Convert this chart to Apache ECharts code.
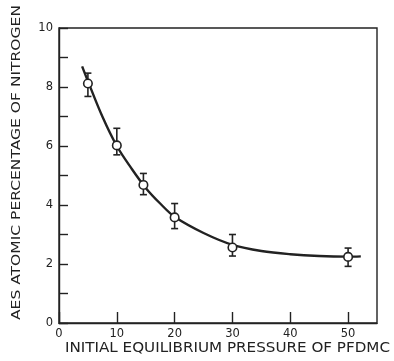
<!DOCTYPE html>
<html>
<head>
<meta charset="utf-8">
<script src="https://cdn.jsdelivr.net/npm/echarts@6/dist/echarts.min.js"></script>
<style>html,body{margin:0;padding:0;background:#fff;}#c{width:394px;height:361px;}</style>
</head>
<body>
<div id="c"></div>
<script>
// Measured points
var pressure = [5, 10, 14.6, 20, 30, 50];
var nitrogen = [8.12, 6.02, 4.68, 3.58, 2.56, 2.24];
var errLow  = [7.68, 5.70, 4.35, 3.20, 2.27, 1.92];
var errHigh = [8.47, 6.60, 5.07, 4.05, 3.00, 2.54];
// Fitted curve
var curveX = [4, 5, 7.5, 10, 12.5, 15, 17.5, 20, 25, 30, 35, 40, 45, 50, 52.2];
var curveY = [8.7, 8.2, 7.0, 6.0, 5.25, 4.58, 4.05, 3.6, 3.05, 2.65, 2.44, 2.33, 2.27, 2.25, 2.26];
var xTicks = ['0', '10', '20', '30', '40', '50'];
var yTicks = ['0', '2', '4', '6', '8', '10'];
var xTitle = 'INITIAL EQUILIBRIUM PRESSURE OF PFDMC';
var yTitle = 'AES ATOMIC PERCENTAGE OF NITROGEN';

var ink = '#222222';
function textWidth(t, font) {
  var c = document.createElement('canvas').getContext('2d');
  c.font = font; return c.measureText(t).width;
}
var xFont = '13.5px "DejaVu Sans"';
var yFont = '11.5px "DejaVu Sans"';
var xScale = 325 / textWidth(xTitle, xFont);
var yScale = 315 / textWidth(yTitle, yFont);

var chart = echarts.init(document.getElementById('c'), null, {renderer: 'canvas'});
chart.setOption({
  backgroundColor: '#ffffff',
  animation: false,
  grid: {left: 59, right: 17, top: 28, bottom: 38, show: true, borderColor: ink, borderWidth: 1.4, backgroundColor: 'transparent'},
  xAxis: {
    type: 'value', min: 0, max: 55, interval: 10,
    axisLine: {lineStyle: {color: ink, width: 1.4}},
    axisTick: {inside: true, length: 11, lineStyle: {color: ink, width: 1.4}},
    axisLabel: {showMaxLabel: false, fontFamily: 'DejaVu Sans', fontSize: 11.5, color: ink, margin: 5,
      formatter: function (v) { var i = xTicks.indexOf(String(v)); return i >= 0 ? xTicks[i] : ''; }},
    splitLine: {show: false}
  },
  yAxis: {
    type: 'value', min: 0, max: 10, interval: 1,
    axisLine: {lineStyle: {color: ink, width: 1.4}},
    axisTick: {inside: true, length: 9, lineStyle: {color: ink, width: 1.4}},
    axisLabel: {fontFamily: 'DejaVu Sans', fontSize: 11.5, color: ink, margin: 6,
      formatter: function (v) { var i = yTicks.indexOf(String(v)); return i >= 0 ? yTicks[i] : ''; }},
    splitLine: {show: false}
  },
  graphic: [
    {type: 'text', x: 227.5, y: 348.5, scaleX: xScale,
      style: {text: xTitle, font: xFont, fill: ink, textAlign: 'center', textVerticalAlign: 'middle'}},
    {type: 'text', x: 16.7, y: 162.5, rotation: Math.PI / 2, scaleX: yScale,
      style: {text: yTitle, font: yFont, fill: ink, textAlign: 'center', textVerticalAlign: 'middle'}}
  ],
  series: [
    {
      type: 'line', data: curveX.map(function (x, i) { return [x, curveY[i]]; }),
      smooth: 0.35, showSymbol: false, symbol: 'none',
      lineStyle: {color: ink, width: 2.4}, z: 2
    },
    {
      type: 'custom',
      data: pressure.map(function (x, i) { return [x, errLow[i], errHigh[i]]; }),
      renderItem: function (params, api) {
        var lo = api.coord([api.value(0), api.value(1)]);
        var hi = api.coord([api.value(0), api.value(2)]);
        var w = 3.5;
        var st = {stroke: ink, lineWidth: 1.6};
        return {type: 'group', children: [
          {type: 'line', shape: {x1: lo[0], y1: lo[1], x2: hi[0], y2: hi[1]}, style: st},
          {type: 'line', shape: {x1: lo[0] - w, y1: lo[1], x2: lo[0] + w, y2: lo[1]}, style: st},
          {type: 'line', shape: {x1: hi[0] - w, y1: hi[1], x2: hi[0] + w, y2: hi[1]}, style: st}
        ]};
      },
      z: 3
    },
    {
      type: 'scatter', data: pressure.map(function (x, i) { return [x, nitrogen[i]]; }),
      symbol: 'circle', symbolSize: 8.5,
      itemStyle: {color: '#ffffff', borderColor: ink, borderWidth: 1.6, opacity: 1}, z: 4
    }
  ]
});
</script>
</body>
</html>
